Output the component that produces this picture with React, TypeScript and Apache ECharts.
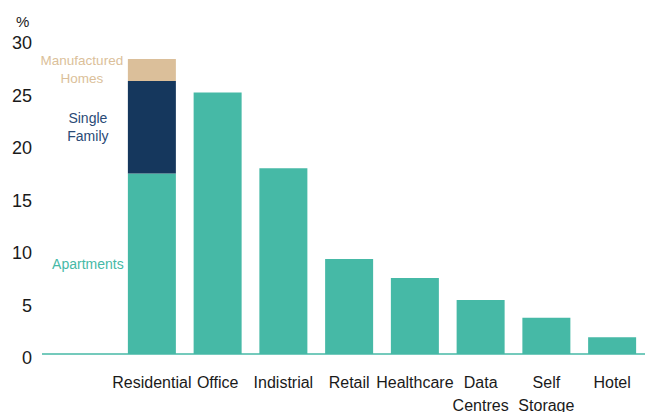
import React, { useEffect, useRef } from "react";
import * as echarts from "echarts";

const categories = ["Residential", "Office", "Indistrial", "Retail", "Healthcare", "Data\nCentres", "Self\nStorage", "Hotel"];
const apartments = [17.2, 24.9, 17.7, 9.05, 7.25, 5.15, 3.45, 1.6];
const singleFamily = [8.8, null, null, null, null, null, null, null];
const manufacturedHomes = [2.1, null, null, null, null, null, null, null];
const yTicks = [0, 5, 10, 15, 20, 25, 30];

const FONT = "'Liberation Sans', Arial, sans-serif";
const TEAL = "#46b9a6";
const NAVY = "#15375d";
const TAN = "#dbbf9a";

export default function App() {
  const ref = useRef<HTMLDivElement>(null);
  useEffect(() => {
    if (!ref.current) return;
    const chart = echarts.init(ref.current, null, { renderer: "svg" });
    chart.setOption({
      animation: false,
      textStyle: { fontFamily: FONT },
      title: {
        text: "%",
        left: 11,
        top: 9,
        textStyle: { fontFamily: FONT, fontSize: 15, fontWeight: "normal", color: "#1a1a1a" },
      },
      grid: { left: 119, right: 2, top: 39, bottom: 58, containLabel: false, outerBoundsMode: "none" },
      xAxis: {
        type: "category",
        data: categories,
        axisLine: { show: false },
        axisTick: { show: false },
        axisLabel: {
          interval: 0,
          margin: 17,
          fontSize: 16,
          lineHeight: 23,
          color: "#1a1a1a",
          fontFamily: FONT,
        },
      },
      yAxis: {
        type: "value",
        min: yTicks[0],
        max: yTicks[yTicks.length - 1],
        interval: 5,
        splitLine: { show: false },
        axisLine: { show: false },
        axisTick: { show: false },
        axisLabel: {
          margin: 87,
          fontSize: 18,
          color: "#1a1a1a",
          fontFamily: FONT,
          verticalAlign: "top",
          lineHeight: 8,
        },
      },
      graphic: [
        {
          type: "line",
          shape: { x1: 42, y1: 354, x2: 645, y2: 354 },
          style: { stroke: TEAL, lineWidth: 1.5 },
          z: 10,
        },
      ],
      series: [
        {
          name: "Apartments",
          type: "bar",
          stack: "s",
          barWidth: 48,
          data: apartments,
          itemStyle: { color: TEAL },
          label: {
            show: true,
            position: "left",
            distance: 40,
            align: "center",
            fontSize: 14,
            fontFamily: FONT,
            color: TEAL,
            formatter: (p: any) => (p.dataIndex === 0 ? "Apartments" : ""),
          },
        },
        {
          name: "Single Family",
          type: "bar",
          stack: "s",
          barWidth: 48,
          data: singleFamily,
          itemStyle: { color: NAVY },
          label: {
            show: true,
            position: "left",
            distance: 40,
            align: "center",
            fontSize: 14,
            lineHeight: 18,
            fontFamily: FONT,
            color: "#2a4a76",
            formatter: "Single\nFamily",
          },
        },
        {
          name: "Manufactured Homes",
          type: "bar",
          stack: "s",
          barWidth: 48,
          data: manufacturedHomes,
          itemStyle: { color: TAN },
          label: {
            show: true,
            position: "left",
            distance: 46,
            align: "center",
            fontSize: 13.5,
            lineHeight: 18,
            fontFamily: FONT,
            color: TAN,
            formatter: "Manufactured\nHomes",
          },
        },
      ],
    });
    return () => chart.dispose();
  }, []);
  return <div ref={ref} style={{ width: 647, height: 412, position: "absolute", left: 0, top: 0 }} />;
}
